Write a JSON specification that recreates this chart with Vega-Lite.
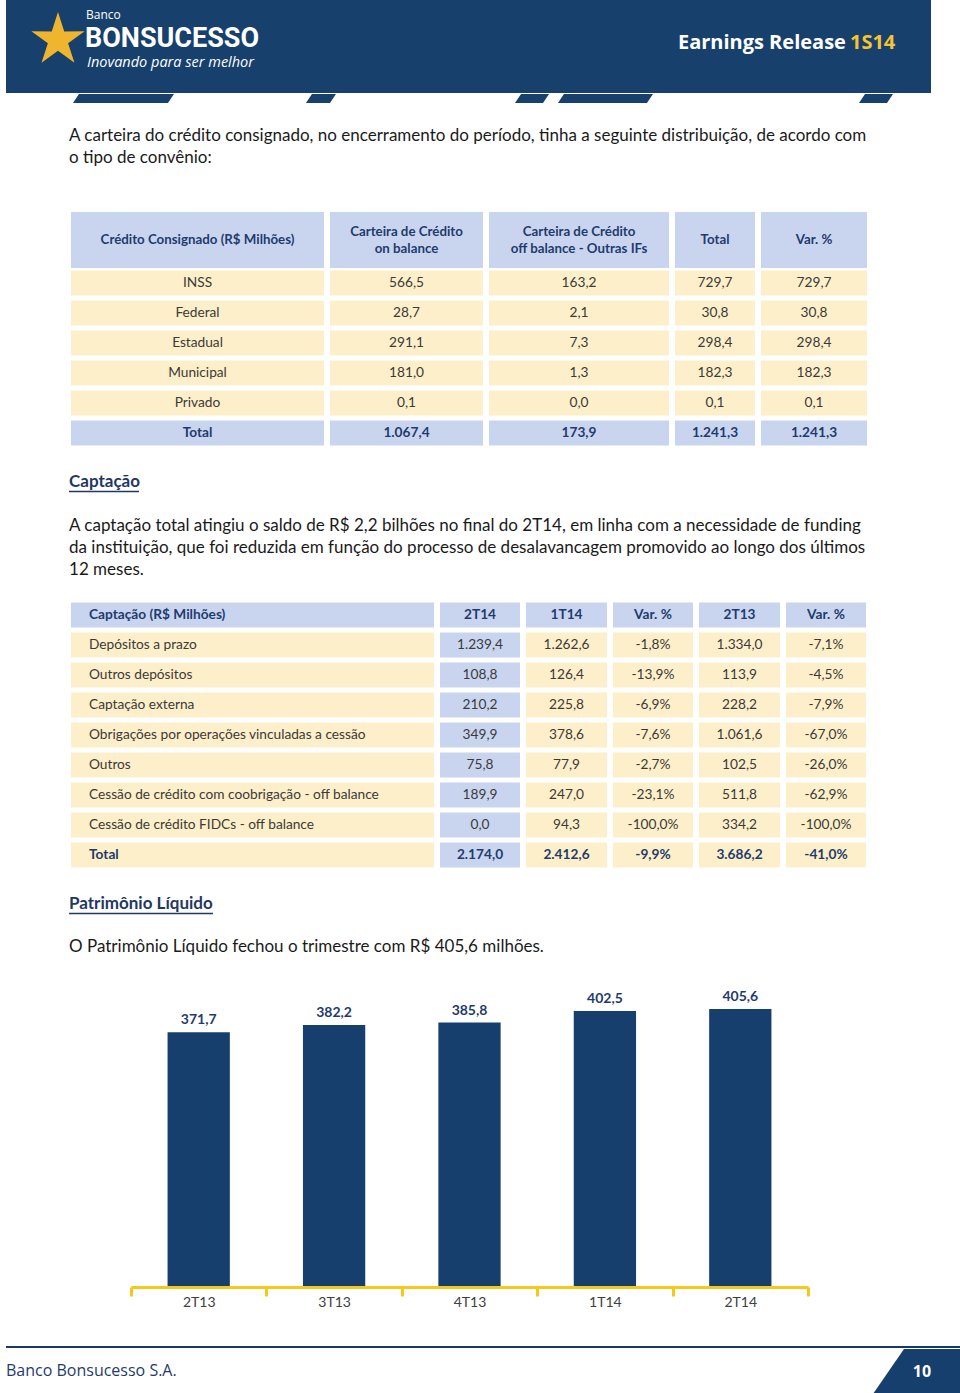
{
"$schema":"https://vega.github.io/schema/vega-lite/v6.json",
"background":"#ffffff",
"padding":{"left":5,"top":0,"right":0,"bottom":0},
"spacing":0,
"bounds":"full",
"config":{"view":{"stroke":null},"locale":{"number":{"decimal":",","thousands":".","grouping":[3],"currency":["R$ ",""]}}},
"datasets":{
"t1":[
{"row":"H","col":"c1","kind":"head","v":"Crédito Consignado (R$ Milhões)"},
{"row":"H","col":"c2","kind":"head","v":"Carteira de Crédito\non balance"},
{"row":"H","col":"c3","kind":"head","v":"Carteira de Crédito\noff balance - Outras IFs"},
{"row":"H","col":"c4","kind":"head","v":"Total"},
{"row":"H","col":"c5","kind":"head","v":"Var. %"},
{"row":"INSS","col":"c1","kind":"body","v":"INSS"},
{"row":"INSS","col":"c2","kind":"body","v":"566,5"},
{"row":"INSS","col":"c3","kind":"body","v":"163,2"},
{"row":"INSS","col":"c4","kind":"body","v":"729,7"},
{"row":"INSS","col":"c5","kind":"body","v":"729,7"},
{"row":"Federal","col":"c1","kind":"body","v":"Federal"},
{"row":"Federal","col":"c2","kind":"body","v":"28,7"},
{"row":"Federal","col":"c3","kind":"body","v":"2,1"},
{"row":"Federal","col":"c4","kind":"body","v":"30,8"},
{"row":"Federal","col":"c5","kind":"body","v":"30,8"},
{"row":"Estadual","col":"c1","kind":"body","v":"Estadual"},
{"row":"Estadual","col":"c2","kind":"body","v":"291,1"},
{"row":"Estadual","col":"c3","kind":"body","v":"7,3"},
{"row":"Estadual","col":"c4","kind":"body","v":"298,4"},
{"row":"Estadual","col":"c5","kind":"body","v":"298,4"},
{"row":"Municipal","col":"c1","kind":"body","v":"Municipal"},
{"row":"Municipal","col":"c2","kind":"body","v":"181,0"},
{"row":"Municipal","col":"c3","kind":"body","v":"1,3"},
{"row":"Municipal","col":"c4","kind":"body","v":"182,3"},
{"row":"Municipal","col":"c5","kind":"body","v":"182,3"},
{"row":"Privado","col":"c1","kind":"body","v":"Privado"},
{"row":"Privado","col":"c2","kind":"body","v":"0,1"},
{"row":"Privado","col":"c3","kind":"body","v":"0,0"},
{"row":"Privado","col":"c4","kind":"body","v":"0,1"},
{"row":"Privado","col":"c5","kind":"body","v":"0,1"},
{"row":"Total","col":"c1","kind":"total","v":"Total"},
{"row":"Total","col":"c2","kind":"total","v":"1.067,4"},
{"row":"Total","col":"c3","kind":"total","v":"173,9"},
{"row":"Total","col":"c4","kind":"total","v":"1.241,3"},
{"row":"Total","col":"c5","kind":"total","v":"1.241,3"}
],
"t2":[
{"row":0,"col":"c1","kind":"head","v":"Captação (R$ Milhões)"},
{"row":0,"col":"c2","kind":"head","v":"2T14"},
{"row":0,"col":"c3","kind":"head","v":"1T14"},
{"row":0,"col":"c4","kind":"head","v":"Var. %"},
{"row":0,"col":"c5","kind":"head","v":"2T13"},
{"row":0,"col":"c6","kind":"head","v":"Var. %"},
{"row":1,"col":"c1","kind":"body","v":"Depósitos a prazo"},
{"row":1,"col":"c2","kind":"body","v":"1.239,4"},
{"row":1,"col":"c3","kind":"body","v":"1.262,6"},
{"row":1,"col":"c4","kind":"body","v":"-1,8%"},
{"row":1,"col":"c5","kind":"body","v":"1.334,0"},
{"row":1,"col":"c6","kind":"body","v":"-7,1%"},
{"row":2,"col":"c1","kind":"body","v":"Outros depósitos"},
{"row":2,"col":"c2","kind":"body","v":"108,8"},
{"row":2,"col":"c3","kind":"body","v":"126,4"},
{"row":2,"col":"c4","kind":"body","v":"-13,9%"},
{"row":2,"col":"c5","kind":"body","v":"113,9"},
{"row":2,"col":"c6","kind":"body","v":"-4,5%"},
{"row":3,"col":"c1","kind":"body","v":"Captação externa"},
{"row":3,"col":"c2","kind":"body","v":"210,2"},
{"row":3,"col":"c3","kind":"body","v":"225,8"},
{"row":3,"col":"c4","kind":"body","v":"-6,9%"},
{"row":3,"col":"c5","kind":"body","v":"228,2"},
{"row":3,"col":"c6","kind":"body","v":"-7,9%"},
{"row":4,"col":"c1","kind":"body","v":"Obrigações por operações vinculadas a cessão"},
{"row":4,"col":"c2","kind":"body","v":"349,9"},
{"row":4,"col":"c3","kind":"body","v":"378,6"},
{"row":4,"col":"c4","kind":"body","v":"-7,6%"},
{"row":4,"col":"c5","kind":"body","v":"1.061,6"},
{"row":4,"col":"c6","kind":"body","v":"-67,0%"},
{"row":5,"col":"c1","kind":"body","v":"Outros"},
{"row":5,"col":"c2","kind":"body","v":"75,8"},
{"row":5,"col":"c3","kind":"body","v":"77,9"},
{"row":5,"col":"c4","kind":"body","v":"-2,7%"},
{"row":5,"col":"c5","kind":"body","v":"102,5"},
{"row":5,"col":"c6","kind":"body","v":"-26,0%"},
{"row":6,"col":"c1","kind":"body","v":"Cessão de crédito com coobrigação - off balance"},
{"row":6,"col":"c2","kind":"body","v":"189,9"},
{"row":6,"col":"c3","kind":"body","v":"247,0"},
{"row":6,"col":"c4","kind":"body","v":"-23,1%"},
{"row":6,"col":"c5","kind":"body","v":"511,8"},
{"row":6,"col":"c6","kind":"body","v":"-62,9%"},
{"row":7,"col":"c1","kind":"body","v":"Cessão de crédito FIDCs - off balance"},
{"row":7,"col":"c2","kind":"body","v":"0,0"},
{"row":7,"col":"c3","kind":"body","v":"94,3"},
{"row":7,"col":"c4","kind":"body","v":"-100,0%"},
{"row":7,"col":"c5","kind":"body","v":"334,2"},
{"row":7,"col":"c6","kind":"body","v":"-100,0%"},
{"row":8,"col":"c1","kind":"total","v":"Total"},
{"row":8,"col":"c2","kind":"total","v":"2.174,0"},
{"row":8,"col":"c3","kind":"total","v":"2.412,6"},
{"row":8,"col":"c4","kind":"total","v":"-9,9%"},
{"row":8,"col":"c5","kind":"total","v":"3.686,2"},
{"row":8,"col":"c6","kind":"total","v":"-41,0%"}
],
"pl":[
{"q":"2T13","v":371.7},
{"q":"3T13","v":382.2},
{"q":"4T13","v":385.8},
{"q":"1T14","v":402.5},
{"q":"2T14","v":405.6}
]
},
"vconcat":[
{"width":925,"height":93,"view":{"fill":"#17406d","stroke":null},
"resolve":{"scale":{"x":"independent","y":"independent"}},
"layer":[
{"data":{"values":[{"k":"logo"}]},"mark":{"type":"point","shape":"M0,-1L0.223,-0.307L0.951,-0.309L0.361,0.117L0.588,0.809L0,0.38L-0.588,0.809L-0.361,0.117L-0.951,-0.309L-0.223,-0.307Z","size":3136,"filled":true,"color":"#efb52f","opacity":1,"strokeWidth":0},
"encoding":{"x":{"field":"k","type":"nominal","axis":null,"scale":{"type":"point","align":0.0562}},"y":{"field":"k","type":"nominal","axis":null,"scale":{"type":"point","align":0.43}}}},
{"data":{"values":[{"k":"Banco"}]},"mark":{"type":"text","align":"left","baseline":"middle","font":"Open Sans","fontSize":12,"color":"#ffffff"},
"encoding":{"text":{"field":"k"},"x":{"field":"k","type":"nominal","axis":null,"scale":{"type":"point","align":0.0865}},"y":{"field":"k","type":"nominal","axis":null,"scale":{"type":"point","align":0.165}}}},
{"data":{"values":[{"k":"BONSUCESSO"}]},"mark":{"type":"text","align":"left","baseline":"middle","font":"Roboto","fontSize":27,"fontWeight":"bold","color":"#ffffff"},
"encoding":{"text":{"field":"k"},"x":{"field":"k","type":"nominal","axis":null,"scale":{"type":"point","align":0.0854}},"y":{"field":"k","type":"nominal","axis":null,"scale":{"type":"point","align":0.415}}}},
{"data":{"values":[{"k":"Inovando para ser melhor"}]},"mark":{"type":"text","align":"left","baseline":"middle","font":"Open Sans","fontSize":14.5,"fontStyle":"italic","color":"#ffffff"},
"encoding":{"text":{"field":"k"},"x":{"field":"k","type":"nominal","axis":null,"scale":{"type":"point","align":0.0876}},"y":{"field":"k","type":"nominal","axis":null,"scale":{"type":"point","align":0.675}}}},
{"data":{"values":[{"k":"Earnings Release"}]},"mark":{"type":"text","align":"right","baseline":"middle","font":"Open Sans","fontSize":20,"fontWeight":"bold","color":"#ffffff"},
"encoding":{"text":{"field":"k"},"x":{"field":"k","type":"nominal","axis":null,"scale":{"type":"point","align":0.908}},"y":{"field":"k","type":"nominal","axis":null,"scale":{"type":"point","align":0.462}}}},
{"data":{"values":[{"k":"1S14"}]},"mark":{"type":"text","align":"left","baseline":"middle","font":"Open Sans","fontSize":20,"fontWeight":"bold","color":"#f5c431"},
"encoding":{"text":{"field":"k"},"x":{"field":"k","type":"nominal","axis":null,"scale":{"type":"point","align":0.9124}},"y":{"field":"k","type":"nominal","axis":null,"scale":{"type":"point","align":0.462}}}}
]},
{"width":955,"height":118,
"resolve":{"scale":{"x":"independent","y":"independent"}},
"layer":[
{"data":{"values":[{"k":"aba1"}]},"mark":{"type":"point","shape":"M-0.881,-0.089L1,-0.089L0.881,0.089L-1,0.089Z","size":10201,"filled":true,"color":"#17406d","opacity":1,"strokeWidth":0},
"encoding":{"x":{"field":"k","type":"nominal","axis":null,"scale":{"type":"point","align":0.123}},"y":{"field":"k","type":"nominal","axis":null,"scale":{"type":"point","align":0.0381}}}},
{"data":{"values":[{"k":"aba2"}]},"mark":{"type":"point","shape":"M-0.6,-0.3L1,-0.3L0.6,0.3L-1,0.3Z","size":900,"filled":true,"color":"#17406d","opacity":1,"strokeWidth":0},
"encoding":{"x":{"field":"k","type":"nominal","axis":null,"scale":{"type":"point","align":0.3298}},"y":{"field":"k","type":"nominal","axis":null,"scale":{"type":"point","align":0.0381}}}},
{"data":{"values":[{"k":"aba3"}]},"mark":{"type":"point","shape":"M-0.647,-0.265L1,-0.265L0.647,0.265L-1,0.265Z","size":1156,"filled":true,"color":"#17406d","opacity":1,"strokeWidth":0},
"encoding":{"x":{"field":"k","type":"nominal","axis":null,"scale":{"type":"point","align":0.5508}},"y":{"field":"k","type":"nominal","axis":null,"scale":{"type":"point","align":0.0381}}}},
{"data":{"values":[{"k":"aba4"}]},"mark":{"type":"point","shape":"M-0.874,-0.095L1,-0.095L0.874,0.095L-1,0.095Z","size":9025,"filled":true,"color":"#17406d","opacity":1,"strokeWidth":0},
"encoding":{"x":{"field":"k","type":"nominal","axis":null,"scale":{"type":"point","align":0.6277}},"y":{"field":"k","type":"nominal","axis":null,"scale":{"type":"point","align":0.0381}}}},
{"data":{"values":[{"k":"aba5"}]},"mark":{"type":"point","shape":"M-0.647,-0.265L1,-0.265L0.647,0.265L-1,0.265Z","size":1156,"filled":true,"color":"#17406d","opacity":1,"strokeWidth":0},
"encoding":{"x":{"field":"k","type":"nominal","axis":null,"scale":{"type":"point","align":0.911}},"y":{"field":"k","type":"nominal","axis":null,"scale":{"type":"point","align":0.0381}}}},
{"data":{"values":[{"k":"A carteira do crédito consignado, no encerramento do período, tinha a seguinte distribuição, de acordo com\no tipo de convênio:"}]},
"mark":{"type":"text","align":"left","baseline":"alphabetic","font":"Lato","fontSize":17,"color":"#1a1a1a","lineBreak":"\n","lineHeight":22},
"encoding":{"text":{"field":"k"},"x":{"field":"k","type":"nominal","axis":null,"scale":{"type":"point","align":0.066}},"y":{"field":"k","type":"nominal","axis":null,"scale":{"type":"point","align":0.4025}}}}
]},
{"hconcat":[
{"width":59,"height":56,"data":{"values":[{"k":1}]},"mark":{"type":"point","opacity":0}},
{"width":253,"height":56,"data":{"name":"t1"},"transform":[{"filter":"datum.kind=='head' && datum.col=='c1'"}],"encoding":{"x":{"field":"col","type":"nominal","axis":null,"scale":{"paddingInner":0,"paddingOuter":0}},"y":{"field":"row","type":"nominal","axis":null,"scale":{"paddingInner":0,"paddingOuter":0}}},"layer":[{"mark":{"type":"rect","color":"#c9d5ee"}},{"mark":{"type":"text","font":"Lato","fontSize":13.3,"fontWeight":"bold","color":"#1f3b6e","lineBreak":"\n","lineHeight":17},"encoding":{"text":{"field":"v"}}}]},
{"width":153,"height":56,"data":{"name":"t1"},"transform":[{"filter":"datum.kind=='head' && datum.col=='c2'"}],"encoding":{"x":{"field":"col","type":"nominal","axis":null,"scale":{"paddingInner":0,"paddingOuter":0}},"y":{"field":"row","type":"nominal","axis":null,"scale":{"paddingInner":0,"paddingOuter":0}}},"layer":[{"mark":{"type":"rect","color":"#c9d5ee"}},{"mark":{"type":"text","font":"Lato","fontSize":13.3,"fontWeight":"bold","color":"#1f3b6e","lineBreak":"\n","lineHeight":17,"dy":-8.5},"encoding":{"text":{"field":"v"}}}]},
{"width":180,"height":56,"data":{"name":"t1"},"transform":[{"filter":"datum.kind=='head' && datum.col=='c3'"}],"encoding":{"x":{"field":"col","type":"nominal","axis":null,"scale":{"paddingInner":0,"paddingOuter":0}},"y":{"field":"row","type":"nominal","axis":null,"scale":{"paddingInner":0,"paddingOuter":0}}},"layer":[{"mark":{"type":"rect","color":"#c9d5ee"}},{"mark":{"type":"text","font":"Lato","fontSize":13.3,"fontWeight":"bold","color":"#1f3b6e","lineBreak":"\n","lineHeight":17,"dy":-8.5},"encoding":{"text":{"field":"v"}}}]},
{"width":80,"height":56,"data":{"name":"t1"},"transform":[{"filter":"datum.kind=='head' && datum.col=='c4'"}],"encoding":{"x":{"field":"col","type":"nominal","axis":null,"scale":{"paddingInner":0,"paddingOuter":0}},"y":{"field":"row","type":"nominal","axis":null,"scale":{"paddingInner":0,"paddingOuter":0}}},"layer":[{"mark":{"type":"rect","color":"#c9d5ee"}},{"mark":{"type":"text","font":"Lato","fontSize":13.3,"fontWeight":"bold","color":"#1f3b6e","lineBreak":"\n","lineHeight":17},"encoding":{"text":{"field":"v"}}}]},
{"width":106,"height":56,"data":{"name":"t1"},"transform":[{"filter":"datum.kind=='head' && datum.col=='c5'"}],"encoding":{"x":{"field":"col","type":"nominal","axis":null,"scale":{"paddingInner":0,"paddingOuter":0}},"y":{"field":"row","type":"nominal","axis":null,"scale":{"paddingInner":0,"paddingOuter":0}}},"layer":[{"mark":{"type":"rect","color":"#c9d5ee"}},{"mark":{"type":"text","font":"Lato","fontSize":13.3,"fontWeight":"bold","color":"#1f3b6e","lineBreak":"\n","lineHeight":17},"encoding":{"text":{"field":"v"}}}]}
],"spacing":6,"bounds":"flush"},
{"hconcat":[
{"width":59,"height":180,"data":{"values":[{"k":1}]},"mark":{"type":"point","opacity":0}},
{"width":253,"height":180,"data":{"name":"t1"},"transform":[{"filter":"datum.kind!='head' && datum.col=='c1'"}],"encoding":{"x":{"field":"col","type":"nominal","axis":null,"scale":{"paddingInner":0,"paddingOuter":0}},"y":{"field":"row","type":"nominal","axis":null,"scale":{"domain":["INSS","Federal","Estadual","Municipal","Privado","Total"],"paddingInner":0.1667,"paddingOuter":0.0833}}},"layer":[
{"transform":[{"filter":"datum.kind=='body'"}],"mark":{"type":"rect","color":"#fdefc9"}},
{"transform":[{"filter":"datum.kind=='total'"}],"mark":{"type":"rect","color":"#c9d5ee"}},
{"transform":[{"filter":"datum.kind=='body'"}],"mark":{"type":"text","font":"Lato","fontSize":13.7,"color":"#3a3a3a"},"encoding":{"text":{"field":"v"}}},
{"transform":[{"filter":"datum.kind=='total'"}],"mark":{"type":"text","font":"Lato","fontSize":13.7,"fontWeight":"bold","color":"#1f3b6e"},"encoding":{"text":{"field":"v"}}}]},
{"width":153,"height":180,"data":{"name":"t1"},"transform":[{"filter":"datum.kind!='head' && datum.col=='c2'"}],"encoding":{"x":{"field":"col","type":"nominal","axis":null,"scale":{"paddingInner":0,"paddingOuter":0}},"y":{"field":"row","type":"nominal","axis":null,"scale":{"domain":["INSS","Federal","Estadual","Municipal","Privado","Total"],"paddingInner":0.1667,"paddingOuter":0.0833}}},"layer":[
{"transform":[{"filter":"datum.kind=='body'"}],"mark":{"type":"rect","color":"#fdefc9"}},
{"transform":[{"filter":"datum.kind=='total'"}],"mark":{"type":"rect","color":"#c9d5ee"}},
{"transform":[{"filter":"datum.kind=='body'"}],"mark":{"type":"text","font":"Lato","fontSize":13.7,"color":"#3a3a3a"},"encoding":{"text":{"field":"v"}}},
{"transform":[{"filter":"datum.kind=='total'"}],"mark":{"type":"text","font":"Lato","fontSize":13.7,"fontWeight":"bold","color":"#1f3b6e"},"encoding":{"text":{"field":"v"}}}]},
{"width":180,"height":180,"data":{"name":"t1"},"transform":[{"filter":"datum.kind!='head' && datum.col=='c3'"}],"encoding":{"x":{"field":"col","type":"nominal","axis":null,"scale":{"paddingInner":0,"paddingOuter":0}},"y":{"field":"row","type":"nominal","axis":null,"scale":{"domain":["INSS","Federal","Estadual","Municipal","Privado","Total"],"paddingInner":0.1667,"paddingOuter":0.0833}}},"layer":[
{"transform":[{"filter":"datum.kind=='body'"}],"mark":{"type":"rect","color":"#fdefc9"}},
{"transform":[{"filter":"datum.kind=='total'"}],"mark":{"type":"rect","color":"#c9d5ee"}},
{"transform":[{"filter":"datum.kind=='body'"}],"mark":{"type":"text","font":"Lato","fontSize":13.7,"color":"#3a3a3a"},"encoding":{"text":{"field":"v"}}},
{"transform":[{"filter":"datum.kind=='total'"}],"mark":{"type":"text","font":"Lato","fontSize":13.7,"fontWeight":"bold","color":"#1f3b6e"},"encoding":{"text":{"field":"v"}}}]},
{"width":80,"height":180,"data":{"name":"t1"},"transform":[{"filter":"datum.kind!='head' && datum.col=='c4'"}],"encoding":{"x":{"field":"col","type":"nominal","axis":null,"scale":{"paddingInner":0,"paddingOuter":0}},"y":{"field":"row","type":"nominal","axis":null,"scale":{"domain":["INSS","Federal","Estadual","Municipal","Privado","Total"],"paddingInner":0.1667,"paddingOuter":0.0833}}},"layer":[
{"transform":[{"filter":"datum.kind=='body'"}],"mark":{"type":"rect","color":"#fdefc9"}},
{"transform":[{"filter":"datum.kind=='total'"}],"mark":{"type":"rect","color":"#c9d5ee"}},
{"transform":[{"filter":"datum.kind=='body'"}],"mark":{"type":"text","font":"Lato","fontSize":13.7,"color":"#3a3a3a"},"encoding":{"text":{"field":"v"}}},
{"transform":[{"filter":"datum.kind=='total'"}],"mark":{"type":"text","font":"Lato","fontSize":13.7,"fontWeight":"bold","color":"#1f3b6e"},"encoding":{"text":{"field":"v"}}}]},
{"width":106,"height":180,"data":{"name":"t1"},"transform":[{"filter":"datum.kind!='head' && datum.col=='c5'"}],"encoding":{"x":{"field":"col","type":"nominal","axis":null,"scale":{"paddingInner":0,"paddingOuter":0}},"y":{"field":"row","type":"nominal","axis":null,"scale":{"domain":["INSS","Federal","Estadual","Municipal","Privado","Total"],"paddingInner":0.1667,"paddingOuter":0.0833}}},"layer":[
{"transform":[{"filter":"datum.kind=='body'"}],"mark":{"type":"rect","color":"#fdefc9"}},
{"transform":[{"filter":"datum.kind=='total'"}],"mark":{"type":"rect","color":"#c9d5ee"}},
{"transform":[{"filter":"datum.kind=='body'"}],"mark":{"type":"text","font":"Lato","fontSize":13.7,"color":"#3a3a3a"},"encoding":{"text":{"field":"v"}}},
{"transform":[{"filter":"datum.kind=='total'"}],"mark":{"type":"text","font":"Lato","fontSize":13.7,"fontWeight":"bold","color":"#1f3b6e"},"encoding":{"text":{"field":"v"}}}]}
],"spacing":6,"bounds":"flush"},
{"width":955,"height":152,
"resolve":{"scale":{"x":"independent","y":"independent"}},
"layer":[
{"data":{"values":[{"k":"Captação"}]},"mark":{"type":"text","align":"left","baseline":"alphabetic","font":"Lato","fontSize":17,"fontWeight":"bold","color":"#1f3864"},
"encoding":{"text":{"field":"k"},"x":{"field":"k","type":"nominal","axis":null,"scale":{"type":"point","align":0.066}},"y":{"field":"k","type":"nominal","axis":null,"scale":{"type":"point","align":0.2566}}}},
{"data":{"values":[{"k":"sublinhado"}]},"mark":{"type":"tick","orient":"horizontal","size":70,"thickness":1.4,"color":"#1f3864","opacity":1},
"encoding":{"x":{"field":"k","type":"nominal","axis":null,"scale":{"type":"point","align":0.1026}},"y":{"field":"k","type":"nominal","axis":null,"scale":{"type":"point","align":0.286}}}},
{"data":{"values":[{"k":"A captação total atingiu o saldo de R$ 2,2 bilhões no final do 2T14, em linha com a necessidade de funding\nda instituição, que foi reduzida em função do processo de desalavancagem promovido ao longo dos últimos\n12 meses."}]},"mark":{"type":"text","align":"left","baseline":"alphabetic","font":"Lato","fontSize":17,"color":"#1a1a1a","lineBreak":"\n","lineHeight":22},
"encoding":{"text":{"field":"k"},"x":{"field":"k","type":"nominal","axis":null,"scale":{"type":"point","align":0.066}},"y":{"field":"k","type":"nominal","axis":null,"scale":{"type":"point","align":0.5428}}}}
]},
{"hconcat":[
{"width":59,"height":270,"data":{"values":[{"k":1}]},"mark":{"type":"point","opacity":0}},
{"width":363,"height":270,"data":{"name":"t2"},"transform":[{"filter":"datum.col=='c1'"}],"encoding":{"x":{"field":"col","type":"nominal","axis":null,"scale":{"paddingInner":0,"paddingOuter":0}},"y":{"field":"row","type":"ordinal","axis":null,"scale":{"domain":[0,1,2,3,4,5,6,7,8],"paddingInner":0.1667,"paddingOuter":0.0833}}},"layer":[
{"transform":[{"filter":"datum.kind=='head'"}],"mark":{"type":"rect","color":"#c9d5ee"}},
{"transform":[{"filter":"datum.kind!='head'"}],"mark":{"type":"rect","color":"#fdefc9"}},
{"transform":[{"filter":"datum.kind=='body'"}],"mark":{"type":"text","align":"left","dx":18,"font":"Lato","fontSize":13.7,"color":"#3a3a3a"},"encoding":{"x":{"field":"col","type":"nominal","axis":null,"bandPosition":0},"text":{"field":"v"}}},
{"transform":[{"filter":"datum.kind!='body'"}],"mark":{"type":"text","align":"left","dx":18,"font":"Lato","fontSize":13.7,"fontWeight":"bold","color":"#1f3b6e"},"encoding":{"x":{"field":"col","type":"nominal","axis":null,"bandPosition":0},"text":{"field":"v"}}}]},
{"width":80,"height":270,"data":{"name":"t2"},"transform":[{"filter":"datum.col=='c2'"}],"encoding":{"x":{"field":"col","type":"nominal","axis":null,"scale":{"paddingInner":0,"paddingOuter":0}},"y":{"field":"row","type":"ordinal","axis":null,"scale":{"domain":[0,1,2,3,4,5,6,7,8],"paddingInner":0.1667,"paddingOuter":0.0833}}},"layer":[
{"mark":{"type":"rect","color":"#c9d5ee"}},
{"transform":[{"filter":"datum.kind=='body'"}],"mark":{"type":"text","font":"Lato","fontSize":13.7,"color":"#3a3a3a"},"encoding":{"text":{"field":"v"}}},
{"transform":[{"filter":"datum.kind!='body'"}],"mark":{"type":"text","font":"Lato","fontSize":13.7,"fontWeight":"bold","color":"#1f3b6e"},"encoding":{"text":{"field":"v"}}}]},
{"width":81,"height":270,"data":{"name":"t2"},"transform":[{"filter":"datum.col=='c3'"}],"encoding":{"x":{"field":"col","type":"nominal","axis":null,"scale":{"paddingInner":0,"paddingOuter":0}},"y":{"field":"row","type":"ordinal","axis":null,"scale":{"domain":[0,1,2,3,4,5,6,7,8],"paddingInner":0.1667,"paddingOuter":0.0833}}},"layer":[
{"transform":[{"filter":"datum.kind=='head'"}],"mark":{"type":"rect","color":"#c9d5ee"}},
{"transform":[{"filter":"datum.kind!='head'"}],"mark":{"type":"rect","color":"#fdefc9"}},
{"transform":[{"filter":"datum.kind=='body'"}],"mark":{"type":"text","font":"Lato","fontSize":13.7,"color":"#3a3a3a"},"encoding":{"text":{"field":"v"}}},
{"transform":[{"filter":"datum.kind!='body'"}],"mark":{"type":"text","font":"Lato","fontSize":13.7,"fontWeight":"bold","color":"#1f3b6e"},"encoding":{"text":{"field":"v"}}}]},
{"width":80,"height":270,"data":{"name":"t2"},"transform":[{"filter":"datum.col=='c4'"}],"encoding":{"x":{"field":"col","type":"nominal","axis":null,"scale":{"paddingInner":0,"paddingOuter":0}},"y":{"field":"row","type":"ordinal","axis":null,"scale":{"domain":[0,1,2,3,4,5,6,7,8],"paddingInner":0.1667,"paddingOuter":0.0833}}},"layer":[
{"transform":[{"filter":"datum.kind=='head'"}],"mark":{"type":"rect","color":"#c9d5ee"}},
{"transform":[{"filter":"datum.kind!='head'"}],"mark":{"type":"rect","color":"#fdefc9"}},
{"transform":[{"filter":"datum.kind=='body'"}],"mark":{"type":"text","font":"Lato","fontSize":13.7,"color":"#3a3a3a"},"encoding":{"text":{"field":"v"}}},
{"transform":[{"filter":"datum.kind!='body'"}],"mark":{"type":"text","font":"Lato","fontSize":13.7,"fontWeight":"bold","color":"#1f3b6e"},"encoding":{"text":{"field":"v"}}}]},
{"width":81,"height":270,"data":{"name":"t2"},"transform":[{"filter":"datum.col=='c5'"}],"encoding":{"x":{"field":"col","type":"nominal","axis":null,"scale":{"paddingInner":0,"paddingOuter":0}},"y":{"field":"row","type":"ordinal","axis":null,"scale":{"domain":[0,1,2,3,4,5,6,7,8],"paddingInner":0.1667,"paddingOuter":0.0833}}},"layer":[
{"transform":[{"filter":"datum.kind=='head'"}],"mark":{"type":"rect","color":"#c9d5ee"}},
{"transform":[{"filter":"datum.kind!='head'"}],"mark":{"type":"rect","color":"#fdefc9"}},
{"transform":[{"filter":"datum.kind=='body'"}],"mark":{"type":"text","font":"Lato","fontSize":13.7,"color":"#3a3a3a"},"encoding":{"text":{"field":"v"}}},
{"transform":[{"filter":"datum.kind!='body'"}],"mark":{"type":"text","font":"Lato","fontSize":13.7,"fontWeight":"bold","color":"#1f3b6e"},"encoding":{"text":{"field":"v"}}}]},
{"width":80,"height":270,"data":{"name":"t2"},"transform":[{"filter":"datum.col=='c6'"}],"encoding":{"x":{"field":"col","type":"nominal","axis":null,"scale":{"paddingInner":0,"paddingOuter":0}},"y":{"field":"row","type":"ordinal","axis":null,"scale":{"domain":[0,1,2,3,4,5,6,7,8],"paddingInner":0.1667,"paddingOuter":0.0833}}},"layer":[
{"transform":[{"filter":"datum.kind=='head'"}],"mark":{"type":"rect","color":"#c9d5ee"}},
{"transform":[{"filter":"datum.kind!='head'"}],"mark":{"type":"rect","color":"#fdefc9"}},
{"transform":[{"filter":"datum.kind=='body'"}],"mark":{"type":"text","font":"Lato","fontSize":13.7,"color":"#3a3a3a"},"encoding":{"text":{"field":"v"}}},
{"transform":[{"filter":"datum.kind!='body'"}],"mark":{"type":"text","font":"Lato","fontSize":13.7,"fontWeight":"bold","color":"#1f3b6e"},"encoding":{"text":{"field":"v"}}}]}
],"spacing":6,"bounds":"flush"},
{"width":955,"height":111,
"resolve":{"scale":{"x":"independent","y":"independent"}},
"layer":[
{"data":{"values":[{"k":"Patrimônio Líquido"}]},"mark":{"type":"text","align":"left","baseline":"alphabetic","font":"Lato","fontSize":17,"fontWeight":"bold","color":"#1f3864"},
"encoding":{"text":{"field":"k"},"x":{"field":"k","type":"nominal","axis":null,"scale":{"type":"point","align":0.066}},"y":{"field":"k","type":"nominal","axis":null,"scale":{"type":"point","align":0.3514}}}},
{"data":{"values":[{"k":"sublinhado"}]},"mark":{"type":"tick","orient":"horizontal","size":144,"thickness":1.4,"color":"#1f3864","opacity":1},
"encoding":{"x":{"field":"k","type":"nominal","axis":null,"scale":{"type":"point","align":0.1414}},"y":{"field":"k","type":"nominal","axis":null,"scale":{"type":"point","align":0.3919}}}},
{"data":{"values":[{"k":"O Patrimônio Líquido fechou o trimestre com R$ 405,6 milhões."}]},"mark":{"type":"text","align":"left","baseline":"alphabetic","font":"Lato","fontSize":17,"color":"#1a1a1a"},
"encoding":{"text":{"field":"k"},"x":{"field":"k","type":"nominal","axis":null,"scale":{"type":"point","align":0.066}},"y":{"field":"k","type":"nominal","axis":null,"scale":{"type":"point","align":0.7432}}}}
]},
{"hconcat":[
{"width":125,"height":340,"data":{"values":[{"k":1}]},"mark":{"type":"point","opacity":0}},
{"width":677,"height":306,"data":{"name":"pl"},
"encoding":{"x":{"field":"q","type":"nominal","sort":null,"title":null,"scale":{"paddingInner":0,"paddingOuter":0},"axis":{"labelAngle":0,"domainColor":"#f5c917","domainWidth":3,"tickColor":"#f5c917","tickWidth":3,"tickSize":9,"tickBand":"extent","labelFont":"Lato","labelFontSize":14,"labelColor":"#404040","labelPadding":-1,"zindex":1}},
"y":{"field":"v","type":"quantitative","axis":null,"scale":{"domain":[0,446.4],"nice":false,"zero":true}}},
"layer":[
{"mark":{"type":"bar","color":"#173f6d","width":{"band":0.46}}},
{"mark":{"type":"text","baseline":"bottom","dy":-5,"font":"Lato","fontSize":14,"fontWeight":"bold","color":"#1f3b6e"},"encoding":{"text":{"field":"v","type":"quantitative","format":",.1f"}}}
]}
],"spacing":0,"bounds":"flush"},
{"width":955,"height":73,
"resolve":{"scale":{"x":"independent","y":"independent"}},
"layer":[
{"data":{"values":[{"k":"linha"}]},"mark":{"type":"rule","color":"#1b3a63","strokeWidth":2},
"encoding":{"y":{"field":"k","type":"nominal","axis":null,"scale":{"type":"point","align":0.356}}}},
{"data":{"values":[{"k":"Banco Bonsucesso S.A."}]},"mark":{"type":"text","align":"left","baseline":"alphabetic","font":"Open Sans","fontSize":16,"color":"#1f3b6e"},
"encoding":{"text":{"field":"k"},"x":{"field":"k","type":"nominal","axis":null,"scale":{"type":"point","align":0}},"y":{"field":"k","type":"nominal","axis":null,"scale":{"type":"point","align":0.749}}}},
{"data":{"values":[{"k":"10"}]},"mark":{"type":"point","shape":"M-0.295,-0.511L1,-0.511L1,0.511L-1,0.511Z","size":7744,"filled":true,"color":"#173f6d","opacity":1,"strokeWidth":0},
"encoding":{"x":{"field":"k","type":"nominal","axis":null,"scale":{"type":"point","align":0.9539}},"y":{"field":"k","type":"nominal","axis":null,"scale":{"type":"point","align":0.6918}}}},
{"data":{"values":[{"k":"10"}]},"mark":{"type":"text","align":"center","baseline":"middle","dx":5,"font":"Open Sans","fontSize":16,"fontWeight":"bold","color":"#ffffff"},
"encoding":{"text":{"field":"k"},"x":{"field":"k","type":"nominal","axis":null,"scale":{"type":"point","align":0.9539}},"y":{"field":"k","type":"nominal","axis":null,"scale":{"type":"point","align":0.6918}}}}
]}
]
}
